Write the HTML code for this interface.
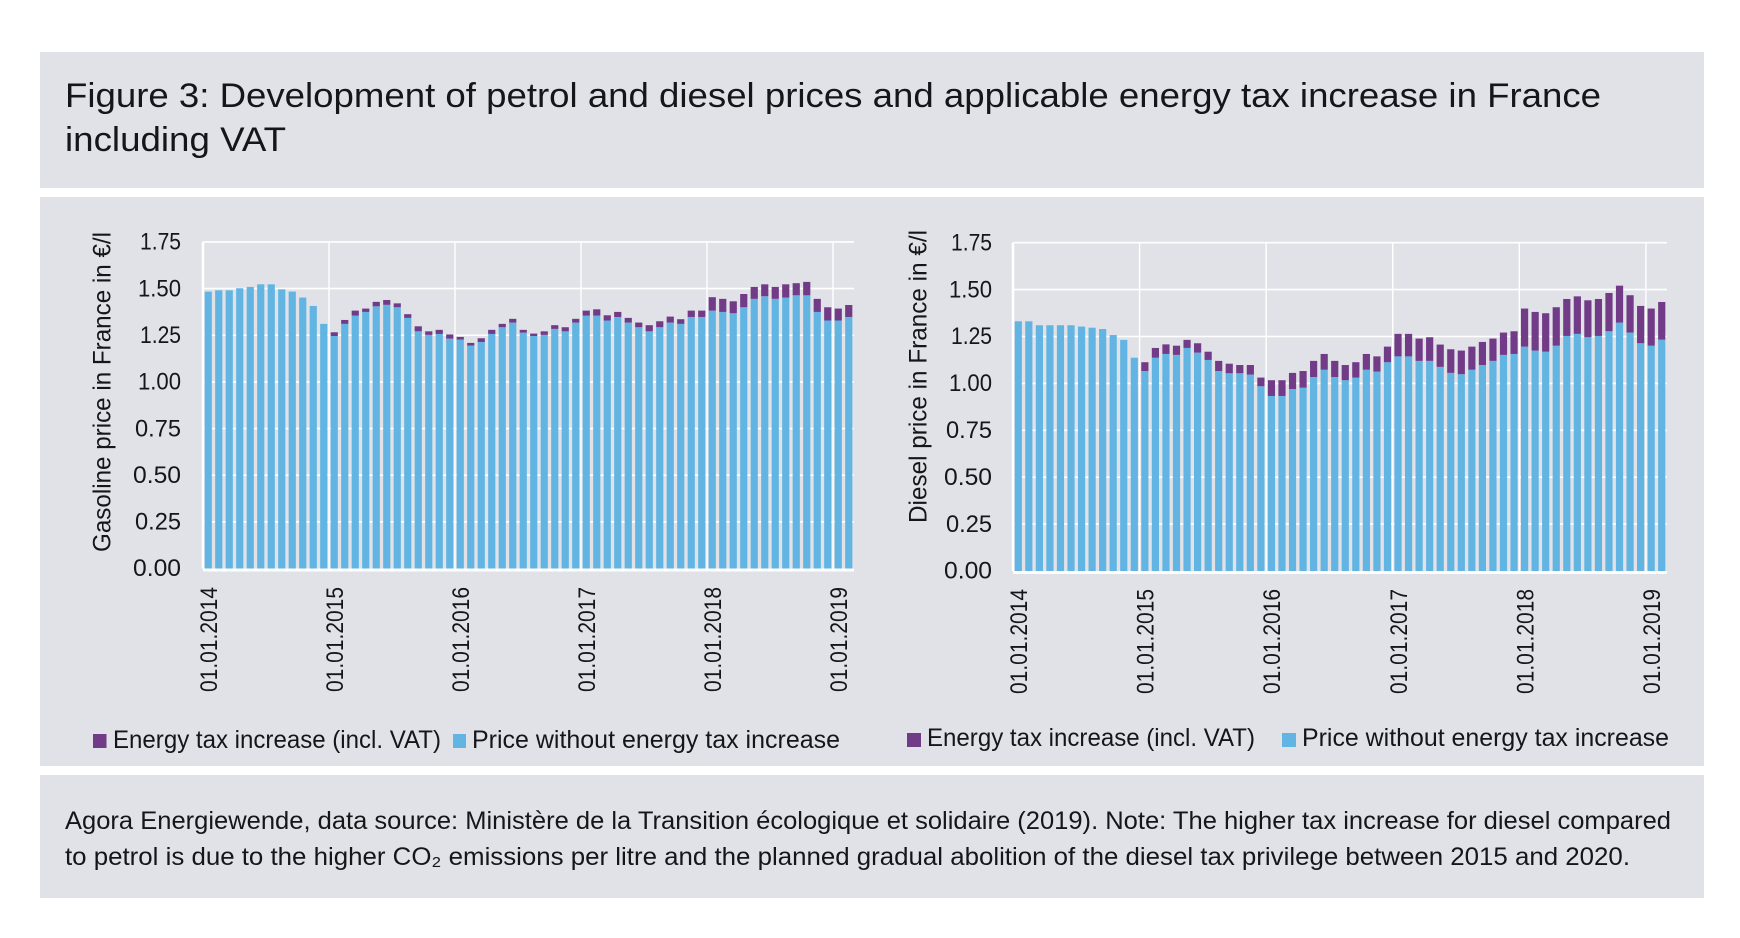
<!DOCTYPE html>
<html lang="en">
<head>
<meta charset="utf-8">
<title>Figure 3: Development of petrol and diesel prices</title>
<style>
html,body{margin:0;padding:0;background:#fff;width:1740px;height:938px;overflow:hidden}
svg{display:block}
text{font-family:"Liberation Sans","DejaVu Sans",sans-serif;fill:#15151a}
</style>
</head>
<body>
<svg id="figure" xmlns="http://www.w3.org/2000/svg" width="1740" height="938" viewBox="0 0 1740 938">
  <rect x="40" y="52" width="1664" height="136" fill="#e1e2e7"/>
  <rect x="40" y="197" width="1664" height="569" fill="#e1e2e7"/>
  <rect x="40" y="775" width="1664" height="123" fill="#e1e2e7"/>

  <text x="65" y="107" font-size="34" textLength="1536" lengthAdjust="spacingAndGlyphs">Figure 3: Development of petrol and diesel prices and applicable energy tax increase in France</text>
  <text x="65" y="151" font-size="34" textLength="221" lengthAdjust="spacingAndGlyphs">including VAT</text>

  <g id="chart-left"></g>
  <g id="chart-right"></g>

  <text transform="translate(110.5,552) rotate(-90)" font-size="25" textLength="320" lengthAdjust="spacingAndGlyphs">Gasoline price in  France in €/l</text>
  <text transform="translate(926.5,523) rotate(-90)" font-size="25" textLength="293" lengthAdjust="spacingAndGlyphs">Diesel price in  France in €/l</text>

  <g>
    <rect x="93" y="734" width="13.5" height="14" fill="#723b87"/>
    <text x="113" y="748" font-size="25" textLength="328" lengthAdjust="spacingAndGlyphs">Energy tax increase (incl. VAT)</text>
    <rect x="453" y="734" width="13" height="14" fill="#62b5e3"/>
    <text x="472" y="748" font-size="25" textLength="368" lengthAdjust="spacingAndGlyphs">Price without energy tax increase</text>
  </g>
  <g>
    <rect x="907" y="733" width="14" height="14" fill="#723b87"/>
    <text x="927" y="746" font-size="25" textLength="328" lengthAdjust="spacingAndGlyphs">Energy tax increase (incl. VAT)</text>
    <rect x="1282" y="733" width="14" height="14" fill="#62b5e3"/>
    <text x="1302" y="746" font-size="25" textLength="367" lengthAdjust="spacingAndGlyphs">Price without energy tax increase</text>
  </g>

  <text x="65" y="829" font-size="25" textLength="1606" lengthAdjust="spacingAndGlyphs">Agora Energiewende, data source: Ministère de la Transition écologique et solidaire (2019). Note: The higher tax increase for diesel compared</text>
  <text x="65" y="865" font-size="25" textLength="1565" lengthAdjust="spacingAndGlyphs">to petrol is due to the higher CO₂ emissions per litre and the planned gradual abolition of the diesel tax privilege between 2015 and 2020.</text>
</svg>

<script>
var yearLabels = ['01.01.2014','01.01.2015','01.01.2016','01.01.2017','01.01.2018','01.01.2019'];
var yTickValues = [0,0.25,0.5,0.75,1,1.25,1.5,1.75];

var gasolineBase = [1.484,1.491,1.491,1.502,1.509,1.523,1.523,1.496,1.484,1.452,1.407,1.311,
1.246,1.311,1.355,1.375,1.405,1.413,1.400,1.343,1.271,1.252,1.257,1.232,
1.227,1.195,1.214,1.257,1.293,1.318,1.264,1.246,1.252,1.284,1.271,1.318,
1.355,1.355,1.329,1.348,1.318,1.293,1.271,1.293,1.318,1.311,1.348,1.348,
1.382,1.375,1.368,1.400,1.445,1.459,1.445,1.452,1.464,1.464,1.375,1.329,1.329,1.348];
var gasolineTax = [0,0,0,0,0,0,0,0,0,0,0,0,
0.020,0.021,0.027,0.018,0.024,0.026,0.021,0.020,0.027,0.019,0.022,0.022,
0.014,0.014,0.020,0.022,0.018,0.020,0.015,0.013,0.019,0.020,0.022,0.020,
0.027,0.034,0.028,0.027,0.025,0.025,0.033,0.032,0.032,0.025,0.034,0.034,
0.072,0.070,0.064,0.071,0.064,0.064,0.064,0.071,0.065,0.072,0.070,0.071,0.064,0.064];

var dieselBase = [1.331,1.331,1.310,1.310,1.310,1.310,1.303,1.297,1.290,1.258,1.232,1.137,
1.066,1.137,1.157,1.152,1.189,1.164,1.125,1.066,1.054,1.054,1.047,0.985,
0.933,0.933,0.970,0.977,1.034,1.073,1.034,1.017,1.031,1.073,1.063,1.113,
1.144,1.144,1.120,1.120,1.088,1.056,1.049,1.073,1.098,1.120,1.152,1.157,
1.196,1.175,1.169,1.201,1.253,1.264,1.246,1.253,1.278,1.324,1.271,1.214,1.201,1.233];
var dieselTax = [0,0,0,0,0,0,0,0,0,0,0,0,
0.047,0.052,0.051,0.049,0.043,0.050,0.044,0.054,0.051,0.044,0.051,0.046,
0.084,0.084,0.086,0.089,0.086,0.084,0.086,0.081,0.082,0.084,0.081,0.083,
0.120,0.120,0.119,0.126,0.119,0.126,0.126,0.123,0.123,0.119,0.119,0.121,
0.203,0.206,0.205,0.205,0.197,0.200,0.197,0.197,0.204,0.197,0.199,0.199,0.198,0.201];

var SVGNS = 'http://www.w3.org/2000/svg';

function makeEl(tag, attrs, parent) {
  var el = document.createElementNS(SVGNS, tag);
  for (var k in attrs) { el.setAttribute(k, attrs[k]); }
  parent.appendChild(el);
  return el;
}

function tickWidth(str) {
  var w = 48;
  if (str.charAt(0) === '1') { w -= 5; }
  if (str.indexOf('7') >= 0) { w -= 2; }
  if (str.indexOf('2') >= 0) { w -= 2; }
  return w;
}

function drawChart(group, prefix, base, tax, box) {
  var band = (box.right - box.left) / base.length;
  function xPos(i) { return box.left + (i + 0.5) * band; }
  function yPos(v) { return box.zeroY - v * box.unit; }
  var topY = yPos(1.75);

  yTickValues.forEach(function (v) {
    var line = makeEl('line', {x1: box.left, x2: box.right, y1: yPos(v), y2: yPos(v), stroke: '#fff', 'stroke-width': v === 0 ? 3 : 1.6}, group);
    
    
    if (v === 0) { line.setAttribute('y1', box.zeroY + 1.5); line.setAttribute('y2', box.zeroY + 1.5); }

    var str = v.toFixed(2);
    var w = tickWidth(str);
    var label = makeEl('text', {x: box.tickX - w, y: yPos(v) + 7.7, 'font-size': 24, textLength: w, lengthAdjust: 'spacingAndGlyphs'}, group);
    label.textContent = str;
    
    
  });

  yearLabels.forEach(function (name, k) {
    var boundary = box.left + k * 12 * band;
    var grid = makeEl('line', {x1: boundary, x2: boundary, y1: topY, y2: box.zeroY, stroke: '#fff', 'stroke-width': k === 0 ? 2.6 : 1.4}, group);
    
    

    var tx = xPos(k * 12) + 8.8;
    var tick = makeEl('text', {transform: 'translate(' + tx + ',' + box.labelBottom + ') rotate(-90)', 'font-size': 24, textLength: 105, lengthAdjust: 'spacingAndGlyphs'}, group);
    tick.textContent = name;
    
    
  });

  base.forEach(function (value, i) {
    var barW = 7.2;
    var x = xPos(i) - barW / 2;
    var blue = makeEl('rect', {x: x, y: yPos(value), width: barW, height: value * box.unit, fill: '#62b5e3'}, group);
    
    
    if (tax[i] > 0) {
      var purple = makeEl('rect', {x: x, y: yPos(value + tax[i]), width: barW, height: tax[i] * box.unit, fill: '#723b87'}, group);
      
      
    }
  });
}

drawChart(document.getElementById('chart-left'), 'gasoline', gasolineBase, gasolineTax,
  {left: 203, right: 854, zeroY: 568.5, unit: 186.6, tickX: 181, labelBottom: 692});
drawChart(document.getElementById('chart-right'), 'diesel', dieselBase, dieselTax,
  {left: 1013, right: 1667, zeroY: 571, unit: 187.6, tickX: 992, labelBottom: 694});
</script>
</body>
</html>
